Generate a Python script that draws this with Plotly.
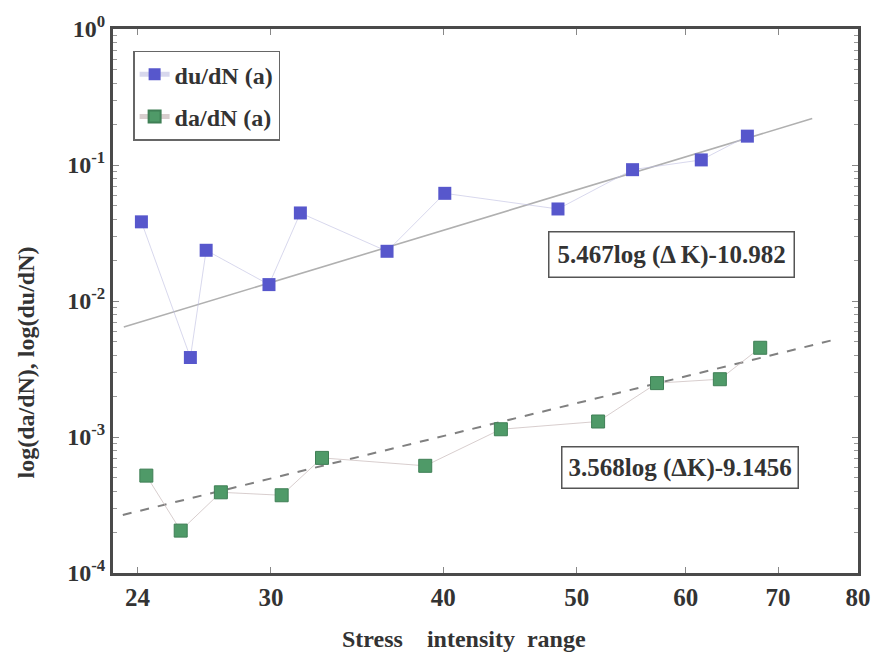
import plotly.graph_objects as go
import math

# Data
du_x = [24.16, 26.22, 26.92, 29.90, 31.51, 36.42, 40.11, 48.46, 54.89, 61.57, 66.50]
du_y = [0.0382, 0.00384, 0.0236, 0.0132, 0.0444, 0.0232, 0.0619, 0.0475, 0.0924, 0.109, 0.163]

da_x = [24.36, 25.80, 27.59, 30.54, 32.67, 38.82, 44.05, 51.82, 57.18, 63.51, 67.94]
da_y = [0.000520, 0.000205, 0.000392, 0.000373, 0.000702, 0.000614, 0.00114, 0.00130, 0.00249, 0.00266, 0.00453]

fit_du_x = [23.46, 74.11]
fit_du_y = [0.00643, 0.2196]
fit_da_x = [23.42, 77.34]
fit_da_y = [0.000267, 0.005265]

x_ticks = [24, 30, 40, 50, 60, 70, 80]
y_ticks = [1e-4, 1e-3, 1e-2, 1e-1, 1e0]
y_ticklabels = ["10<sup>-4</sup>", "10<sup>-3</sup>", "10<sup>-2</sup>", "10<sup>-1</sup>", "10<sup>0</sup>"]

FONT = "Liberation Serif, Times New Roman, serif"
TXT = "#333333"
BLUE = "#5757cc"
GREEN = "#4f9a68"

fig = go.Figure()

fig.add_trace(go.Scatter(
    x=fit_du_x, y=fit_du_y, mode="lines",
    line=dict(color="#b0b0b0", width=1.6), showlegend=False, hoverinfo="skip"))
fig.add_trace(go.Scatter(
    x=fit_da_x, y=fit_da_y, mode="lines",
    line=dict(color="#808080", width=2, dash="dash"), showlegend=False, hoverinfo="skip"))

fig.add_trace(go.Scatter(
    x=du_x, y=du_y, mode="lines+markers", name="du/dN (a)", legendgroup="g1",
    line=dict(color="rgba(190,190,225,0.6)", width=1),
    marker=dict(symbol="square", size=13, color=BLUE)))
fig.add_trace(go.Scatter(
    x=da_x, y=da_y, mode="lines+markers", name="da/dN (a)", legendgroup="g2",
    line=dict(color="rgba(200,185,185,0.7)", width=1),
    marker=dict(symbol="square", size=13, color=GREEN,
                line=dict(color="#3f7f55", width=1))))

ann_font = dict(family=FONT, size=25, color=TXT, weight="bold")
fig.add_annotation(x=math.log10(58.6), y=math.log10(0.0221),
                   xref="x", yref="y", text="5.467log (\u0394 K)-10.982",
                   showarrow=False, font=ann_font,
                   bordercolor="#555", borderwidth=1.5, borderpad=8, bgcolor="white")
fig.add_annotation(x=math.log10(59.4), y=math.log10(0.000594),
                   xref="x", yref="y", text="3.568log (\u0394K)-9.1456",
                   showarrow=False, font=ann_font,
                   bordercolor="#555", borderwidth=1.5, borderpad=6, bgcolor="white")

# Axis titles as paper annotations (positioned like the reference)
fig.add_annotation(x=0.471, y=-0.121, xref="paper", yref="paper",
                   text="Stress&nbsp;&nbsp;&nbsp; intensity&nbsp; range",
                   showarrow=False, xanchor="center", yanchor="middle",
                   font=dict(family=FONT, size=24, color=TXT, weight="bold"))
fig.add_annotation(x=-0.1167, y=0.387, xref="paper", yref="paper",
                   text="log(da/dN), log(du/dN)", textangle=-90,
                   showarrow=False, xanchor="center", yanchor="middle",
                   font=dict(family=FONT, size=24, color=TXT, weight="bold"))

fig.update_layout(
    width=883, height=663,
    margin=dict(l=113, r=16, t=20, b=90),
    paper_bgcolor="white", plot_bgcolor="white",
    font=dict(family=FONT, color=TXT),
    legend=dict(x=0.027, y=0.96, xanchor="left", yanchor="top",
                bordercolor="#666", borderwidth=1.5, bgcolor="white",
                font=dict(family=FONT, size=24, color=TXT, weight="bold"),
                itemsizing="constant", traceorder="grouped", tracegroupgap=8,
                entrywidth=130, entrywidthmode="pixels"),
)

fig.update_xaxes(
    type="log", range=[math.log10(23.04), math.log10(80)],
    tickvals=x_ticks, ticktext=[str(v) for v in x_ticks],
    ticks="inside", ticklen=6, tickwidth=1, tickcolor="#888",
    showline=True, linecolor="#4a4a4a", linewidth=3, mirror="ticks",
    showgrid=False, zeroline=False,
    tickfont=dict(family=FONT, size=25, color=TXT, weight="bold"),
)
fig.update_yaxes(
    type="log", range=[-4, 0],
    tickvals=y_ticks, ticktext=y_ticklabels,
    ticks="inside", ticklen=6, tickwidth=1, tickcolor="#888",
    minor=dict(ticks="inside", ticklen=4, tickcolor="#999", dtick="D1", showgrid=False),
    showline=True, linecolor="#4a4a4a", linewidth=3, mirror="ticks",
    showgrid=False, zeroline=False,
    tickfont=dict(family=FONT, size=24, color=TXT, weight="bold"),
)

fig.write_html("out.html")
